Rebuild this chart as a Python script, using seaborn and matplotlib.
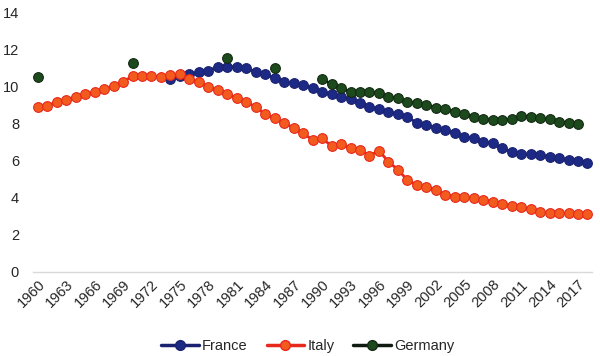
import numpy as np
import pandas as pd
import matplotlib.pyplot as plt
from matplotlib.lines import Line2D
import seaborn as sns

# Dados
anos = list(range(1960, 2019))

franca = [np.nan] * 14 + [
    10.41, 10.6, 10.7, 10.79, 10.88, 11.1, 11.1, 11.1, 11.0, 10.83, 10.7,
    10.47, 10.29, 10.2, 10.1, 9.93, 9.75, 9.6, 9.48, 9.35, 9.15, 8.94, 8.79,
    8.67, 8.52, 8.4, 8.04, 7.95, 7.77, 7.68, 7.5, 7.31, 7.22, 7.04, 6.95,
    6.68, 6.5, 6.38, 6.38, 6.32, 6.23, 6.14, 6.05, 6.02, 5.91]

italia = [
    8.9, 8.99, 9.19, 9.3, 9.48, 9.6, 9.71, 9.87, 10.07, 10.27,
    10.6, 10.6, 10.6, 10.52, 10.65, 10.68, 10.41, 10.29, 10.02, 9.82,
    9.62, 9.4, 9.17, 8.94, 8.52, 8.3, 8.04, 7.8, 7.5, 7.14,
    7.23, 6.81, 6.92, 6.68, 6.59, 6.29, 6.56, 5.96, 5.53, 4.97,
    4.7, 4.58, 4.43, 4.16, 4.07, 4.07, 3.98, 3.89, 3.8, 3.69,
    3.57, 3.5, 3.39, 3.26, 3.17, 3.17, 3.17, 3.14, 3.14]

alemanha = [np.nan] * 59
pontos_isolados = {1960: 10.52, 1970: 11.28, 1980: 11.55, 1985: 11.0}
serie_continua = [
    10.41, 10.16, 9.93, 9.75, 9.71, 9.71, 9.66, 9.48, 9.39, 9.2,
    9.12, 9.03, 8.88, 8.79, 8.67, 8.54, 8.4, 8.25, 8.22, 8.22,
    8.25, 8.43, 8.4, 8.31, 8.25, 8.13, 8.07, 8.0]
for ano, v in pontos_isolados.items():
    alemanha[ano - 1960] = v
for i, v in enumerate(serie_continua):
    alemanha[1990 - 1960 + i] = v

df = pd.DataFrame({'ano': anos, 'France': franca, 'Italy': italia, 'Germany': alemanha})

estilos = {
    'France': dict(color='#1b2370', markerfacecolor='#1c2a85', markeredgecolor='#1b2370'),
    'Italy': dict(color='#e8281c', markerfacecolor='#f25a1e', markeredgecolor='#e8281c'),
    'Germany': dict(color='#111a11', markerfacecolor='#1d4a1d', markeredgecolor='#132a13'),
}

sns.set_style('white')
plt.rcParams['font.family'] = ['Liberation Sans', 'DejaVu Sans']

fig = plt.figure(figsize=(6, 3.56), dpi=100)
ax = fig.add_axes([0.055, 0.236, 0.932, 0.7275])

for pais in ['France', 'Italy', 'Germany']:
    sub = df[['ano', pais]].copy()
    # trechos contínuos (sem ligar pontos separados por lacunas)
    sub['trecho'] = sub[pais].isna().cumsum()
    sub = sub.dropna()
    cor = estilos[pais]
    sns.lineplot(data=sub, x='ano', y=pais, units='trecho', estimator=None,
                 marker='o', markersize=7, linewidth=2, ax=ax,
                 color=cor['color'], markerfacecolor=cor['markerfacecolor'],
                 markeredgecolor=cor['markeredgecolor'], markeredgewidth=0.8)

ax.set_xlim(1959.5, 2018.5)
ax.set_ylim(0, 14)
ax.set_yticks(range(0, 15, 2))
ax.set_xticks(anos[::3])
ax.set_xticklabels([str(a) for a in anos[::3]], rotation=45, ha='right',
                   rotation_mode='anchor')
ax.tick_params(axis='y', length=0, pad=10, labelsize=10.5)
ax.tick_params(axis='x', length=0, pad=4, labelsize=10.5)
ax.set_xlabel('')
ax.set_ylabel('')
for lado in ['top', 'right', 'left']:
    ax.spines[lado].set_visible(False)
ax.spines['bottom'].set_color('#d9d9d9')
ax.spines['bottom'].set_linewidth(1)

handles = [Line2D([], [], marker='o', markersize=7, linewidth=2.5, **estilos[p])
           for p in ['France', 'Italy', 'Germany']]
fig.legend(handles, ['France', 'Italy', 'Germany'], loc='center',
           bbox_to_anchor=(0.513, 0.029), ncol=3, frameon=False, fontsize=10.5,
           handlelength=2.6, handletextpad=0.2, columnspacing=1.3)

fig.savefig('out.png', dpi=100)
